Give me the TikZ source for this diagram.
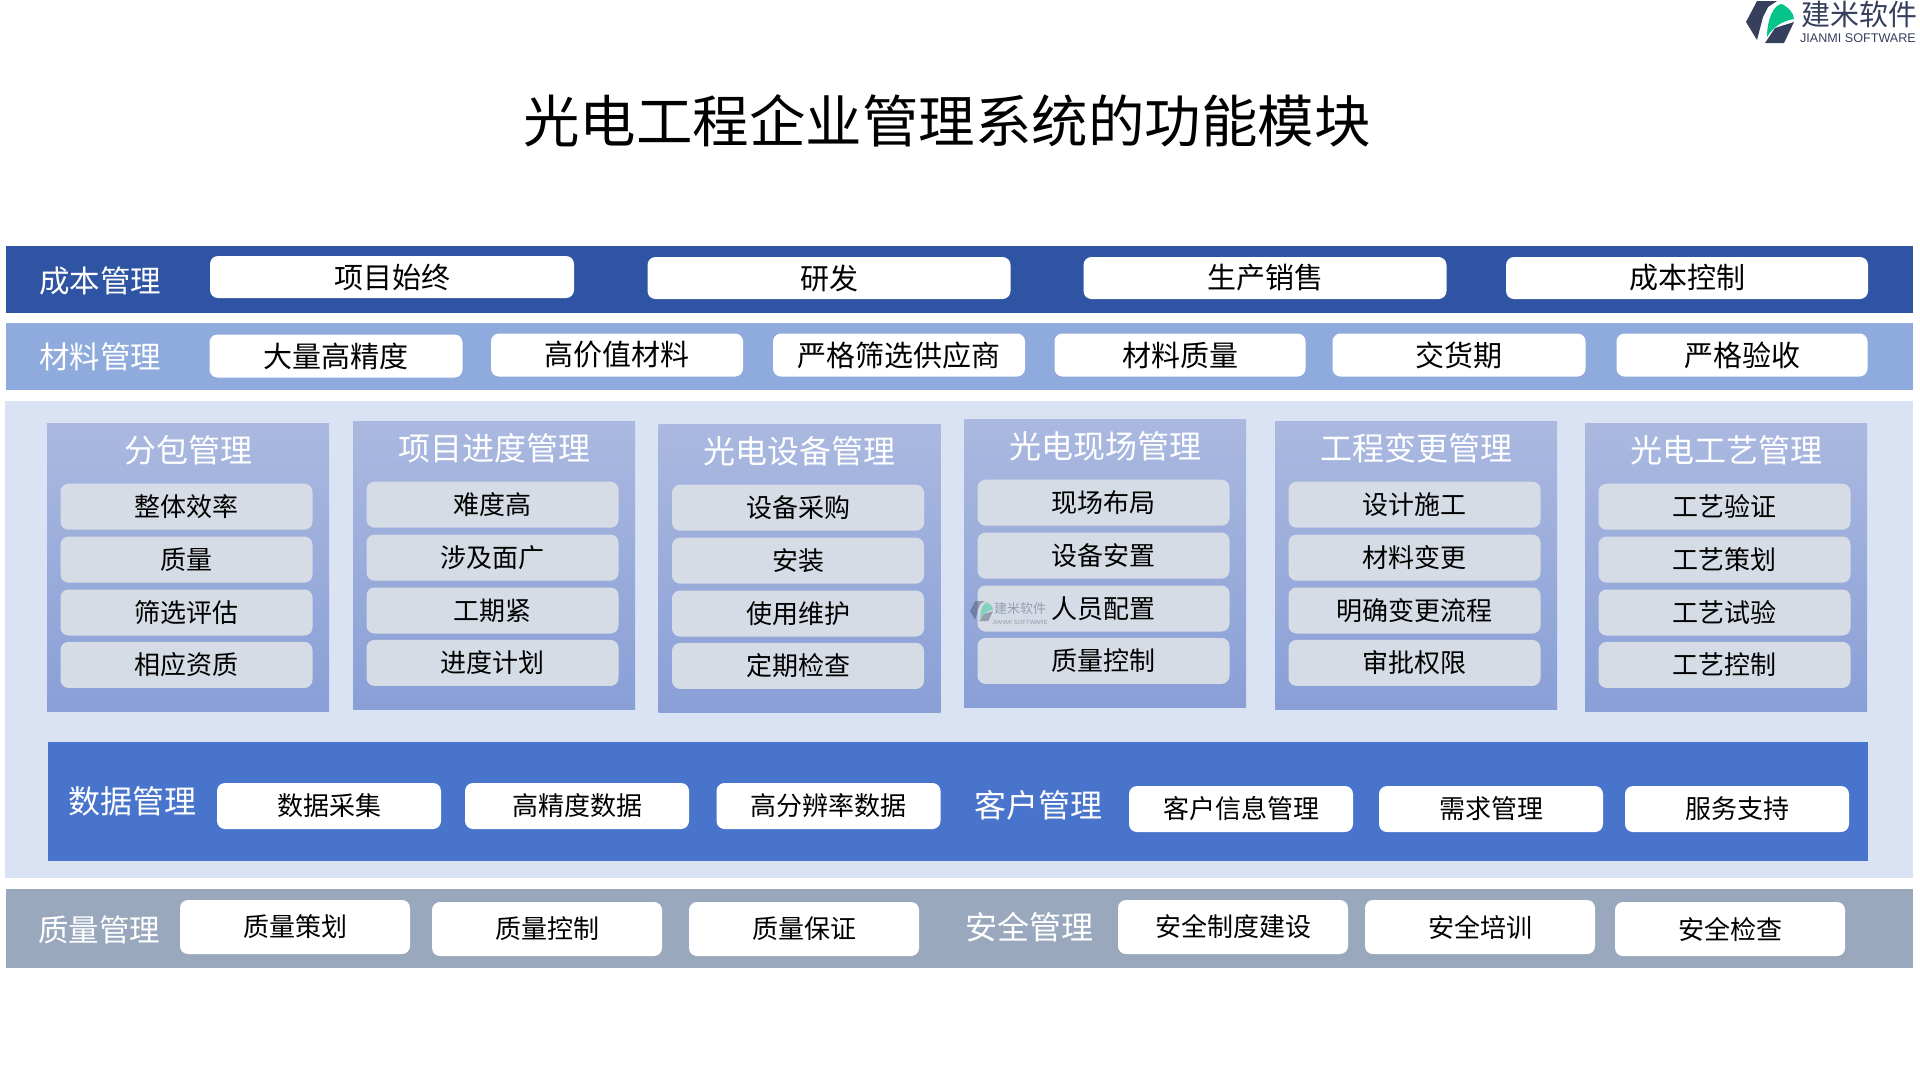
\documentclass[tikz,border=0pt]{standalone}
\usepackage{fontspec}
\setmainfont{Noto Sans CJK SC}
\newfontfamily\latinfont{Liberation Sans}
\usetikzlibrary{positioning}

\definecolor{costblue}{HTML}{2F54A3}
\definecolor{materialblue}{HTML}{8FAADC}
\definecolor{panelblue}{HTML}{DAE3F3}
\definecolor{datablue}{HTML}{4874CB}
\definecolor{qualitygray}{HTML}{9AA8BE}
\definecolor{itemgray}{HTML}{D6DCE5}
\definecolor{coltop}{HTML}{ABB9E0}
\definecolor{colbottom}{HTML}{899FD6}
\definecolor{logodark}{HTML}{363F5C}
\definecolor{logogreen}{HTML}{05C48A}

% logo mark, drawn from its top left corner
\newcommand{\logomark}{%
  \fill[logodark] (0,21) -- (11,0) -- (31,0) -- (22,6) -- (17,16) -- (11,39) -- cycle;
  \fill[logogreen] (21,36) .. controls (21,18) and (28,3) .. (36,3)
    .. controls (42,6) and (48,12) .. (48,18) .. controls (36,20) and (27,26) .. (21,36);
  \fill[logodark] (19,42) -- (29,27) -- (48,21) -- (38,42) -- cycle;
}

\begin{document}
\begin{tikzpicture}[
    x=1pt, y=-1pt,
    band/.style={rectangle, inner sep=0pt, anchor=north west},
    wbox/.style={fill=white, rounded corners=8pt, inner sep=0pt, font=\fontsize{#1}{#1}\selectfont},
    wbox/.default=26,
    bandlabel/.style={text=white, inner sep=0pt, font=\fontsize{#1}{#1}\selectfont},
    bandlabel/.default=30.5,
    column/.style={rectangle, inner sep=0pt, anchor=north, minimum width=282pt, minimum height=288pt, top color=coltop, bottom color=colbottom},
    item/.style={fill=itemgray, rounded corners=8pt, inner sep=0pt, minimum width=252pt, minimum height=46pt, font=\fontsize{26}{26}\selectfont}
]
\useasboundingbox (0,0) rectangle (1920,1080);

% Title
\node[inner sep=0pt, font=\fontsize{56.5}{56.5}\selectfont] (title) at (947,121) {光电工程企业管理系统的功能模块};

% Logo
\begin{scope}[shift={(1746,1)}]
\logomark
\end{scope}
\node[inner sep=0pt, text=logodark, font=\fontsize{29}{29}\selectfont] (logotext) at (1859,14) {建米软件};
\node[inner sep=0pt, text=logodark, font=\latinfont\fontsize{12.6}{12.6}\selectfont] (logosub) at (1858,38) {JIANMI SOFTWARE};

% Cost row
\node[band, fill=costblue, minimum width=1907pt, minimum height=67pt] (costband) at (6,246) {};
\node[bandlabel] (costlabel) at (100,281) {成本管理};
\foreach \nm/\xc/\yc/\bw/\txt in {a/392/277/364/项目始终, b/829/278/363/研发, c/1265/278/363/生产销售, d/1687/278/362/成本控制}
  \node[wbox=29, minimum width=\bw pt, minimum height=42pt] (cost\nm) at (\xc,\yc) {\txt};

% Material row
\node[band, fill=materialblue, minimum width=1907pt, minimum height=67pt] (matband) at (6,323) {};
\node[bandlabel] (matlabel) at (100,357) {材料管理};
\foreach \nm/\xc/\yc/\bw/\txt in {a/336/356/253/大量高精度, b/617/355/252/高价值材料, c/899/355/252/严格筛选供应商, d/1180/355/251/材料质量, e/1459/355/253/交货期, f/1742/355/251/严格验收}
  \node[wbox=29, minimum width=\bw pt, minimum height=43pt] (mat\nm) at (\xc,\yc) {\txt};

% Middle panel
\node[band, fill=panelblue, minimum width=1908pt, minimum height=477pt] (panel) at (5,401) {};

% Six columns
\foreach \nm/\xc/\yt/\ttl/\ia/\ib/\ic/\id in {
    sub/188/423/分包管理/整体效率/质量/筛选评估/相应资质,
    prog/494/421/项目进度管理/难度高/涉及面广/工期紧/进度计划,
    dev/799.5/424/光电设备管理/设备采购/安装/使用维护/定期检查,
    site/1105/419/光电现场管理/现场布局/设备安置/人员配置/质量控制,
    chg/1416/421/工程变更管理/设计施工/材料变更/明确变更流程/审批权限,
    proc/1726/423/光电工艺管理/工艺验证/工艺策划/工艺试验/工艺控制}{
  \node[column] (col\nm) at (\xc,\yt) {};
  \node[bandlabel=32, below=27pt of col\nm.north, anchor=center] (head\nm) {\ttl};
  \node[item, below=60.5pt of col\nm.north, xshift=-1.5pt] (\nm a) {\ia};
  \node[item, below=6.5pt of \nm a] (\nm b) {\ib};
  \node[item, below=6.5pt of \nm b] (\nm c) {\ic};
  \node[item, below=6pt of \nm c] (\nm d) {\id};
}

% Watermark
\begin{scope}[shift={(970,601)}, scale=0.48, opacity=0.4]
\logomark
\end{scope}
\node[inner sep=0pt, text=logodark, opacity=0.4, font=\fontsize{13}{13}\selectfont] (marktext) at (1020,609) {建米软件};
\node[inner sep=0pt, text=logodark, opacity=0.4, font=\latinfont\fontsize{6}{6}\selectfont] (marksub) at (1020,622) {JIANMI SOFTWARE};

% Data and client band
\node[band, fill=datablue, minimum width=1820pt, minimum height=119pt] (databand) at (48,742) {};
\node[bandlabel=32] (datalabel) at (132,801) {数据管理};
\foreach \nm/\xc/\txt in {a/329/数据采集, b/577/高精度数据, c/828.5/高分辨率数据}
  \node[wbox, minimum width=224pt, minimum height=46pt] (data\nm) at (\xc,806) {\txt};
\node[bandlabel=32] (clientlabel) at (1038.5,805) {客户管理};
\foreach \nm/\xc/\txt in {a/1241/客户信息管理, b/1491/需求管理, c/1737/服务支持}
  \node[wbox, minimum width=224pt, minimum height=46pt] (client\nm) at (\xc,809) {\txt};

% Quality and safety band
\node[band, fill=qualitygray, minimum width=1907pt, minimum height=79pt] (qualband) at (6,889) {};
\node[bandlabel] (quallabel) at (99,930) {质量管理};
\foreach \nm/\xc/\yc/\txt in {a/295/927/质量策划, b/547/929/质量控制, c/804/929/质量保证}
  \node[wbox, minimum width=230pt, minimum height=54pt] (qual\nm) at (\xc,\yc) {\txt};
\node[bandlabel=32] (safelabel) at (1029.5,927) {安全管理};
\foreach \nm/\xc/\yc/\txt in {a/1233/927/安全制度建设, b/1480/927/安全培训, c/1730/929/安全检查}
  \node[wbox, minimum width=230pt, minimum height=54pt] (safe\nm) at (\xc,\yc) {\txt};

\end{tikzpicture}
\end{document}
